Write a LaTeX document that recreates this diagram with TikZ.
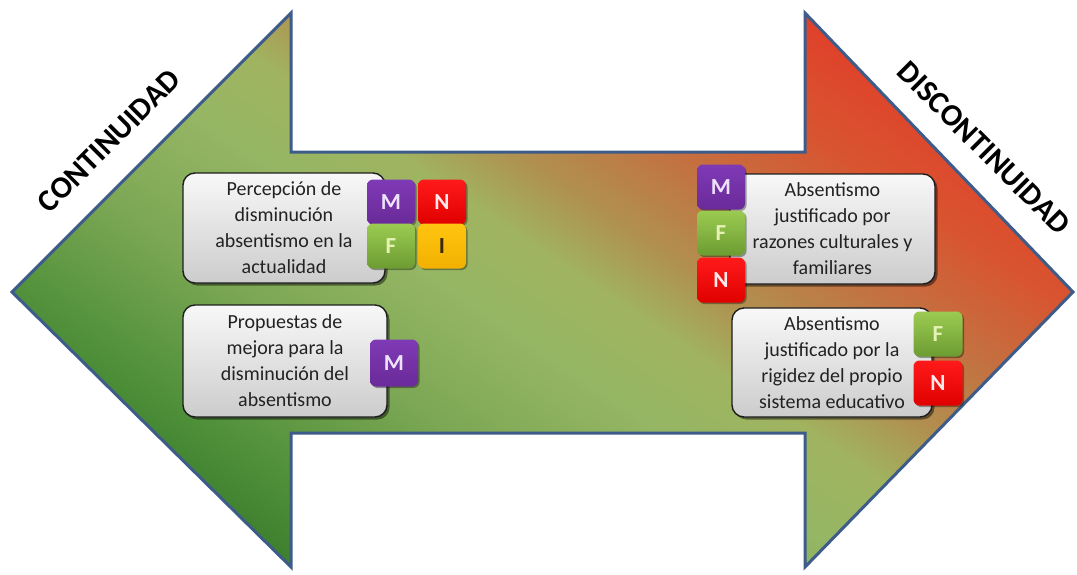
\documentclass[tikz,border=0pt]{standalone}
\usepackage{fontspec}
\setmainfont{Carlito}
\usetikzlibrary{shadows}

% colour ramp of the double arrow: dark green (lower left) to red (upper right)
\definecolor{gA}{HTML}{3A7D2C}
\definecolor{gB}{HTML}{50903A}
\definecolor{gC}{HTML}{7CA754}
\definecolor{gD}{HTML}{95B664}
\definecolor{gE}{HTML}{A0B460}
\definecolor{gF}{HTML}{B09050}
\definecolor{gG}{HTML}{C47040}
\definecolor{gH}{HTML}{D85530}
\definecolor{gI}{HTML}{E0402A}
\definecolor{edgeblue}{HTML}{3D5C8A}
\definecolor{boxline}{HTML}{1E1E1E}
\definecolor{boxtop}{HTML}{F8F8F8}
\definecolor{boxbot}{HTML}{CCCCCC}
\definecolor{boxtext}{HTML}{222222}
\definecolor{purpTop}{HTML}{7F3AB6}
\definecolor{purpBot}{HTML}{6A2A98}
\definecolor{redTop}{HTML}{FF1A1A}
\definecolor{redBot}{HTML}{E00000}
\definecolor{grnTop}{HTML}{9CCB52}
\definecolor{grnBot}{HTML}{6C9C32}
\definecolor{ylwTop}{HTML}{FFC510}
\definecolor{ylwBot}{HTML}{F2B000}
\definecolor{txtM}{HTML}{EEE2FA}
\definecolor{txtN}{HTML}{FFE8E8}
\definecolor{txtF}{HTML}{E4F2B4}
\definecolor{txtI}{HTML}{3A2A08}

\pgfdeclareverticalshading{arrowgrad}{100bp}{color(0bp)=(gA); color(32.7bp)=(gA); color(36.4bp)=(gB); color(42.3bp)=(gC); color(47.7bp)=(gD); color(51.4bp)=(gE); color(54.5bp)=(gF); color(58.6bp)=(gG); color(62.7bp)=(gH); color(67.3bp)=(gI); color(100bp)=(gI)}

\newcommand\arrowoutline{(12,292) -- (291,13) -- (291,152) -- (805,152) -- (805,13) -- (1073,292) -- (805,567) -- (805,433) -- (291,433) -- (291,567) -- cycle}

\begin{document}
\begin{tikzpicture}[x=1pt,y=-1pt,
  title/.style={font=\fontsize{31}{31}\selectfont\bfseries, text=black, inner sep=0pt},
  infobox/.style={draw=boxline, line width=1.4pt, rounded corners=12pt,
    top color=boxtop, bottom color=boxbot, text=boxtext, align=center, inner sep=0pt,
    font=\fontsize{20}{26}\selectfont,
    drop shadow={shadow xshift=2.5pt, shadow yshift=-2.5pt, opacity=0.45, fill=black}},
  badge/.style={rounded corners=6pt, minimum width=48pt, minimum height=45pt, inner sep=0pt,
    font=\fontsize{23}{23}\selectfont\bfseries,
    drop shadow={shadow xshift=1.5pt, shadow yshift=-1.5pt, opacity=0.35, fill=black}},
  bM/.style={badge, top color=purpTop, bottom color=purpBot, text=txtM},
  bN/.style={badge, top color=redTop, bottom color=redBot, text=txtN},
  bF/.style={badge, top color=grnTop, bottom color=grnBot, text=txtF},
  bI/.style={badge, top color=ylwTop, bottom color=ylwBot, text=txtI}]

\useasboundingbox (0,0) rectangle (1077,574);

% double arrow with its diagonal colour ramp
\begin{scope}
  \clip \arrowoutline;
  \shade[shading=arrowgrad, shading angle=-34] (-8,-260) rectangle (1092,840);
\end{scope}
\draw[line width=3pt, draw=edgeblue, line join=miter] \arrowoutline;

% headings along the arrow heads
\node[title, rotate=45] (cont) at (109,141) {CONTINUIDAD};
\node[title, rotate=-45] (discont) at (984,148) {DISCONTINUIDAD};

% left side
\node[infobox, minimum width=202pt, minimum height=110pt] (percep) at (284,228)
  {Percepción de\\disminución\\absentismo en la\\actualidad};
\node[bM] (m1) at (391,202) {M};
\node[bN] (n1) at (442,202) {N};
\node[bF] (f1) at (391,246) {F};
\node[bI] (i1) at (442,246) {I};

\node[infobox, minimum width=204pt, minimum height=112pt] (prop) at (285,361)
  {Propuestas de\\mejora para la\\disminución del\\absentismo};
\node[bM, minimum height=47pt] (m2) at (394,363) {M};

% right side
\node[infobox, minimum width=205pt, minimum height=110pt] (cult) at (832.5,229)
  {Absentismo\\justificado por\\razones culturales y\\familiares};
\node[bM] (m3) at (721,187) {M};
\node[bF] (f3) at (721,233) {F};
\node[bN] (n3) at (721,280) {N};

\node[infobox, minimum width=200pt, minimum height=109pt] (rig) at (832,362.5)
  {Absentismo\\justificado por la\\rigidez del propio\\sistema educativo};
\node[bF, minimum width=49pt] (f4) at (938,334) {F};
\node[bN, minimum width=49pt] (n4) at (938,383) {N};

\end{tikzpicture}
\end{document}
